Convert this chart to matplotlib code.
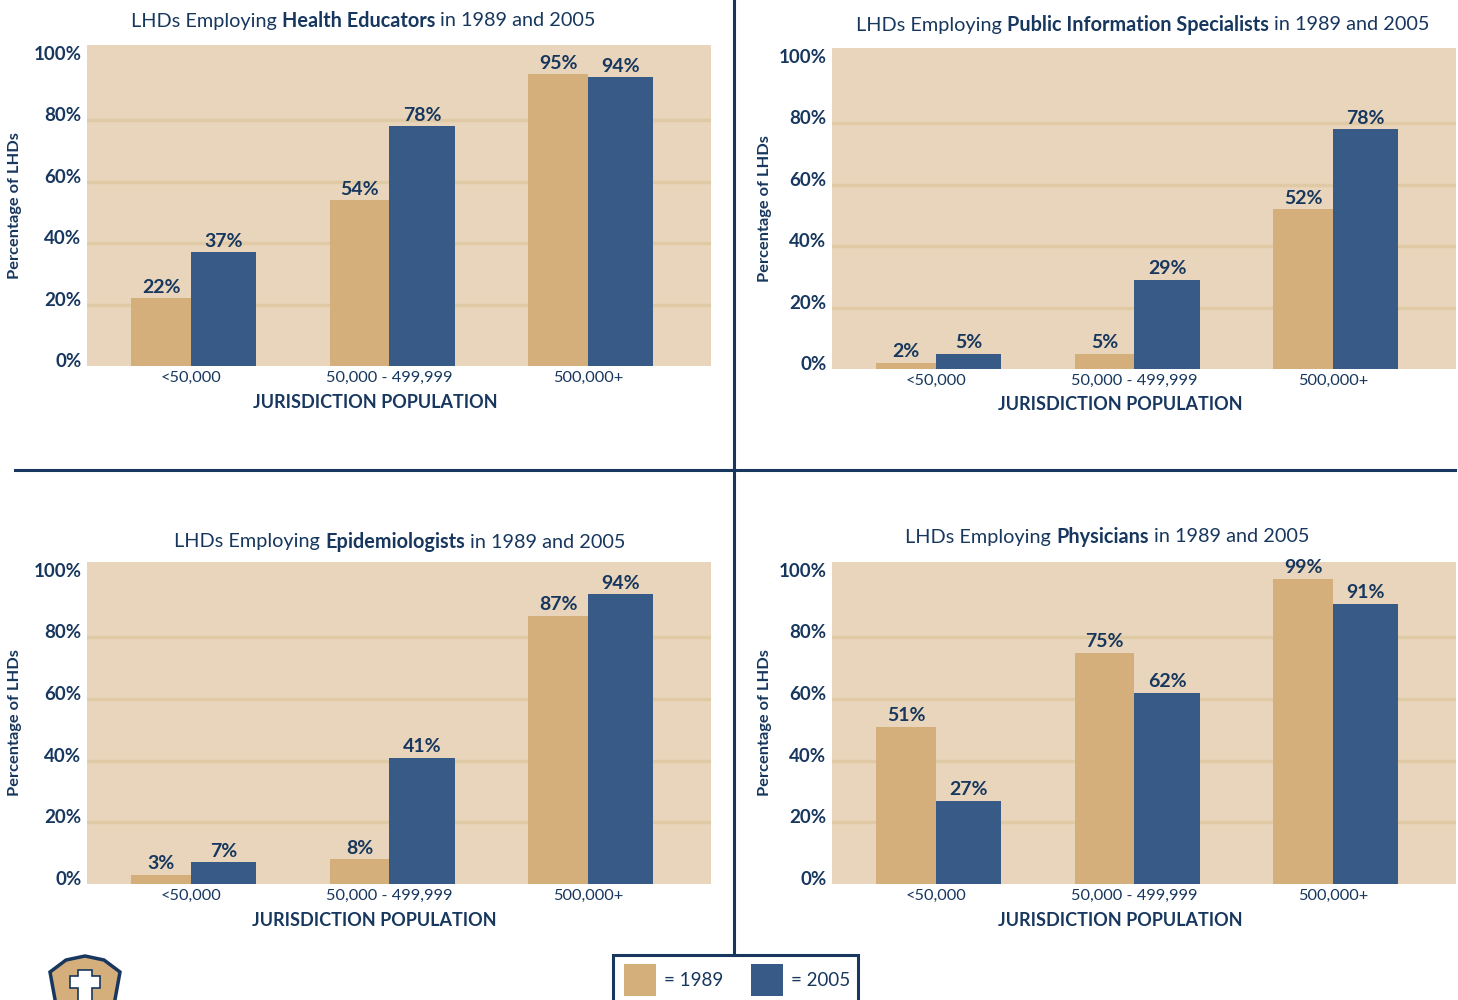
import matplotlib
matplotlib.use("Agg")
import matplotlib.pyplot as plt
from matplotlib.patches import Rectangle, Polygon
from matplotlib.transforms import ScaledTranslation
from matplotlib.lines import Line2D

# data
groups = ["<50,000", "50,000 - 499,999", "500,000+"]
years = ["1989", "2005"]
titles = [("Health Educators"), ("Public Information Specialists"),
          ("Epidemiologists"), ("Physicians")]
health_educators_1989 = [22, 54, 95]
health_educators_2005 = [37, 78, 94]
public_info_1989 = [2, 5, 52]
public_info_2005 = [5, 29, 78]
epidemiologists_1989 = [3, 8, 87]
epidemiologists_2005 = [7, 41, 94]
physicians_1989 = [51, 75, 99]
physicians_2005 = [27, 62, 91]
yticks = [0, 20, 40, 60, 80, 100]

NAVY = "#17375e"
TAN = "#d4ae7b"
BLUE = "#375a86"
BG = "#e8d5bb"
GRID = "#e0c9a5"
W, H = 1458, 1000
FONT = "Lato"

plt.rcParams["font.family"] = [FONT, "DejaVu Sans"]
fig = plt.figure(figsize=(W / 100, H / 100), dpi=100)
renderer = fig.canvas.get_renderer()


def px_rect(x0, x1, y0, y1):
    return [x0 / W, 1 - y1 / H, (x1 - x0) / W, (y1 - y0) / H]


def rich_title(xc, yc, parts, size=14.3):
    # parts: list of (text, weight), joined with spaces
    sp = fig.text(0, 0, "a a", fontsize=size)
    nsp = fig.text(0, 0, "aa", fontsize=size)
    gap = sp.get_window_extent(renderer).width - nsp.get_window_extent(renderer).width
    sp.remove()
    nsp.remove()
    texts = [fig.text(0, 1 - yc / H, s, fontsize=size, fontweight=w, color=NAVY,
                      va="center", ha="left") for s, w in parts]
    widths = [t.get_window_extent(renderer).width for t in texts]
    x = xc - (sum(widths) + gap * (len(parts) - 1)) / 2
    for t, wd in zip(texts, widths):
        t.set_x(x / W)
        x += wd + gap


def panel(rect, v89, v05, title, title_pos, ylab_x, xlab_pos):
    ax = fig.add_axes(rect)
    ax.set_facecolor(BG)
    x = range(len(groups))
    ax.bar(x, v89, width=-0.30, align="edge", color=TAN, zorder=2)
    ax.bar(x, v05, width=0.33, align="edge", color=BLUE, zorder=2)
    for i in x:
        ax.text(i - 0.15, v89[i] + 0.8, f"{v89[i]}%", ha="center", va="bottom",
                fontsize=14, fontweight="bold", color=NAVY, zorder=3)
        ax.text(i + 0.165, v05[i] + 0.8, f"{v05[i]}%", ha="center", va="bottom",
                fontsize=14, fontweight="bold", color=NAVY, zorder=3)
    ax.set_xlim(-0.524, 2.62)
    ax.set_ylim(0, 104.5)
    ax.set_yticks(yticks)
    ax.set_yticklabels([f"{t}%" for t in yticks], fontsize=13.5,
                       fontweight="bold", color=NAVY)
    for t in yticks[1:-1]:
        ax.axhline(t, color=GRID, lw=2.5, zorder=1)
    ax.set_xticks(list(x))
    ax.set_xticklabels(groups, fontsize=11.8, color=NAVY)
    ax.tick_params(length=0)
    ax.tick_params(axis="y", pad=4)
    ax.tick_params(axis="x", pad=3.5)
    off = ScaledTranslation(0, 6 / 100, fig.dpi_scale_trans)
    for lab in ax.get_yticklabels():
        lab.set_transform(lab.get_transform() + off)
    for s in ax.spines.values():
        s.set_visible(False)
    rich_title(title_pos[0], title_pos[1],
               [("LHDs Employing", "normal"), (title, "bold"), ("in 1989 and 2005", "normal")])
    y0 = rect[1] + rect[3] / 2
    fig.text(ylab_x / W, y0, "Percentage of LHDs", rotation=90, ha="center",
             va="center", fontsize=11.8, fontweight="bold", color=NAVY)
    fig.text(xlab_pos[0] / W, 1 - xlab_pos[1] / H, "JURISDICTION POPULATION",
             ha="center", va="center", fontsize=13, fontweight="bold", color=NAVY)
    return ax


panel(px_rect(87, 711, 45, 366), health_educators_1989, health_educators_2005,
      titles[0], (363, 21), 15, (375, 403))
panel(px_rect(832, 1456, 48, 369), public_info_1989, public_info_2005,
      titles[1], (1143, 25), 765, (1120, 405))
panel(px_rect(87, 711, 562, 884), epidemiologists_1989, epidemiologists_2005,
      titles[2], (400, 542), 15, (374, 920))
panel(px_rect(832, 1456, 562, 884), physicians_1989, physicians_2005,
      titles[3], (1107, 537), 765, (1120, 921))

# dividers
fig.add_artist(Line2D([734 / W, 734 / W], [1, 1 - 955 / H], color=NAVY, lw=2.2))
fig.add_artist(Line2D([15 / W, 1455 / W], [1 - 470 / H, 1 - 470 / H], color=NAVY, lw=2.2))

# legend box
fig.add_artist(Rectangle((613 / W, 0 - 0.01), (858 - 613) / W, (1000 - 955) / H + 0.01,
                         transform=fig.transFigure, fill=False, ec=NAVY, lw=2.2))
fig.add_artist(Rectangle((624 / W, 1 - 996 / H), 32 / W, 32 / H,
                         transform=fig.transFigure, fc=TAN, ec="none"))
fig.add_artist(Rectangle((751 / W, 1 - 996 / H), 32 / W, 32 / H,
                         transform=fig.transFigure, fc=BLUE, ec="none"))
fig.text(664 / W, 1 - 980 / H, "= " + years[0], fontsize=13.5, color=NAVY, va="center")
fig.text(791 / W, 1 - 980 / H, "= " + years[1], fontsize=13.5, color=NAVY, va="center")

# logo (shield, cut off at bottom)
shield = [(50, 972), (66, 960), (85, 956), (104, 960), (120, 972), (114, 1005), (56, 1005)]
fig.add_artist(Polygon([(x / W, 1 - y / H) for x, y in shield], closed=True,
                       transform=fig.transFigure, fc=TAN, ec=NAVY, lw=2.5))
cross = [(78, 970), (92, 970), (92, 976), (100, 976), (100, 988), (92, 988), (92, 1005),
         (78, 1005), (78, 988), (70, 988), (70, 976), (78, 976)]
fig.add_artist(Polygon([(x / W, 1 - y / H) for x, y in cross], closed=True,
                       transform=fig.transFigure, fc="white", ec=NAVY, lw=1.2))

fig.savefig("out.png", dpi=100, facecolor="white")
